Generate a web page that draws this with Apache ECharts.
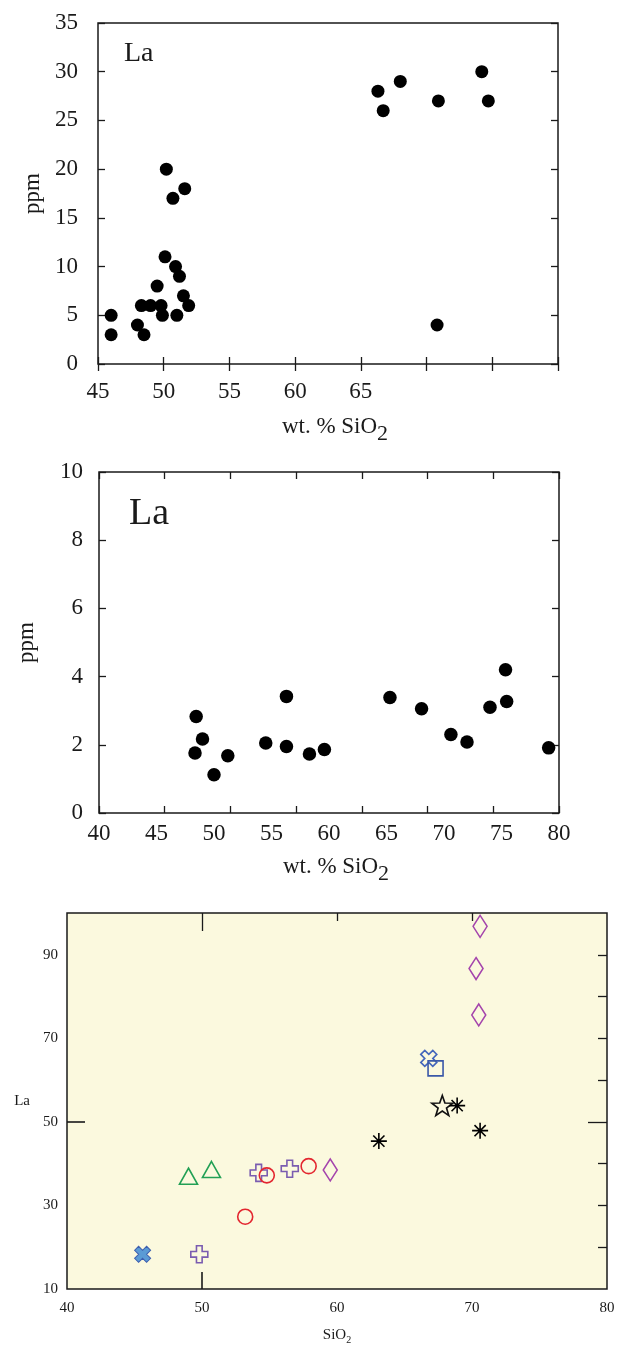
<!DOCTYPE html>
<html>
<head>
<meta charset="utf-8">
<title>La vs SiO2</title>
<script src="https://cdn.jsdelivr.net/npm/echarts@6/dist/echarts.min.js"></script>
<style>
  html, body { margin: 0; padding: 0; background: #fff; }
  #main { width: 621px; height: 1346px; }
</style>
</head>
<body>
<div id="main"></div>
<script>
// ---- panel 1 : La (ppm) vs wt. % SiO2
const p1Si = [46.0, 46.0, 48.0, 48.5, 48.3, 49.0, 49.5, 49.8, 49.9, 50.2, 50.1, 50.7, 51.6, 50.9, 51.2, 51.0, 51.5, 51.9, 66.3, 66.7, 68.0, 70.9, 70.8, 74.2, 74.7]
const p1La = [5, 3, 4, 3, 6, 6, 8, 6, 5, 20, 11, 17, 18, 10, 9, 5, 7, 6, 28, 26, 29, 27, 4, 30, 27]
const p1XLabels = [45, 50, 55, 60, 65]
const p1YLabels = [0, 5, 10, 15, 20, 25, 30, 35]

// ---- panel 2 : La (ppm) vs wt. % SiO2
const p2Si = [48.35, 48.45, 49.0, 50.0, 51.2, 54.5, 56.3, 56.3, 58.3, 59.6, 65.3, 68.05, 70.6, 72.0, 74.0, 75.35, 75.45, 79.1]
const p2La = [1.76, 2.83, 2.17, 1.12, 1.68, 2.05, 3.42, 1.95, 1.73, 1.86, 3.39, 3.06, 2.30, 2.08, 3.10, 4.20, 3.27, 1.91]
const p2XLabels = [40, 45, 50, 55, 60, 65, 70, 75, 80]
const p2YLabels = [0, 2, 4, 6, 8, 10]

// ---- panel 3 : La vs SiO2, grouped by symbol
const xFillSi = [45.6], xFillLa = [18.3]
const plusSi = [49.8, 54.2, 56.5], plusLa = [18.3, 37.8, 38.8]
const triSi = [49.0, 50.7], triLa = [37.0, 38.6]
const circSi = [53.2, 54.8, 57.9], circLa = [27.3, 37.2, 39.4]
const diaSi = [59.5, 70.5, 70.3, 70.6], diaLa = [38.5, 75.6, 86.7, 96.8]
const astSi = [63.1, 68.9, 70.6], astLa = [45.4, 53.9, 47.9]
const starSi = [67.8], starLa = [53.9]
const xOpenSi = [66.8], xOpenLa = [65.2]
const sqSi = [67.3], sqLa = [62.8]
const p3XLabels = [40, 50, 60, 70, 80]
const p3YLabels = [10, 30, 50, 70, 90]

const FONT = '"Liberation Serif", "Times New Roman", serif'
const INK = '#1a1a1a'

const plusPath = 'path://M-1,-3L1,-3L1,-1L3,-1L3,1L1,1L1,3L-1,3L-1,1L-3,1L-3,-1L-1,-1Z'
const starPath = 'path://M0,-1L0.235,-0.324L0.951,-0.309L0.38,0.124L0.588,0.809L0,0.4L-0.588,0.809L-0.38,0.124L-0.951,-0.309L-0.235,-0.324Z'
const astPath = 'path://M0,-1L0,1M-1,0L1,0M-0.7,-0.7L0.7,0.7M-0.7,0.7L0.7,-0.7'

function pairs(xs, ys) {
  return xs.map((x, i) => [x, ys[i]])
}

// axis that only draws inward ticks
function tickAxis(gridIndex, position, min, max, tick) {
  return {
    type: 'value', gridIndex, position, min, max,
    interval: tick.interval,
    axisLine: { show: false },
    splitLine: { show: false },
    axisLabel: { show: false },
    axisTick: {
      inside: true, length: tick.length,
      customValues: tick.values,
      lineStyle: { color: INK, width: 1.3 }
    }
  }
}

function dots(xAxisIndex, yAxisIndex, data, size) {
  return {
    type: 'scatter', xAxisIndex, yAxisIndex, data,
    symbol: 'circle', symbolSize: size,
    itemStyle: { color: '#000', opacity: 1 }
  }
}

function hollow(data, symbol, size, color, extra) {
  return Object.assign({
    type: 'scatter', xAxisIndex: 5, yAxisIndex: 4, data,
    symbol, symbolSize: size,
    itemStyle: { color: 'transparent', borderColor: color, borderWidth: 1.6, opacity: 1 }
  }, extra || {})
}

const labelStyle = (size, margin) => ({ fontFamily: FONT, fontSize: size, color: INK, margin })

// "wt. % SiO2" with a lowered 2
const siName = {
  padding: [0, 0, 0, 14],
  rich: {
    a: { fontFamily: FONT, fontSize: 23, color: INK },
    b: { fontFamily: FONT, fontSize: 22, color: INK, padding: [14, 0, 0, 0] }
  }
}

const option = {
  animation: false,
  backgroundColor: '#fff',
  grid: [
    { left: 98, top: 23, width: 460, height: 341, show: true, borderColor: INK, borderWidth: 1.5 },
    { left: 99, top: 472, width: 460, height: 341, show: true, borderColor: INK, borderWidth: 1.5 },
    { left: 67, top: 913, width: 540, height: 378, show: true, borderColor: INK, borderWidth: 1.5, backgroundColor: '#fbf9de' }
  ],
  graphic: [
    { type: 'text', left: 124, top: 40, style: { text: 'La', font: '28px ' + FONT, fill: INK } },
    { type: 'text', left: 129, top: 495, style: { text: 'La', font: '38px ' + FONT, fill: INK } }
  ],
  xAxis: [
    // 0: panel 1 labels + ticks
    {
      type: 'value', gridIndex: 0, position: 'bottom', min: 45, max: 80, interval: 5,
      axisLine: { show: false }, splitLine: { show: false },
      axisTick: { inside: true, length: 7, lineStyle: { color: INK, width: 1.3 } },
      axisLabel: Object.assign(labelStyle(23, 16), { customValues: p1XLabels }),
      name: '{a|wt. % SiO}{b|2}', nameLocation: 'middle', nameGap: 45,
      nameTextStyle: siName
    },
    tickAxis(0, 'top', 45, 80, { interval: 5, length: 7 }),
    // 2: panel 2 labels
    {
      type: 'value', gridIndex: 1, position: 'bottom', min: 40, max: 80,
      axisLine: { show: false }, splitLine: { show: false },
      axisTick: { show: false },
      axisLabel: Object.assign(labelStyle(23, 9), { customValues: p2XLabels }),
      name: '{a|wt. % SiO}{b|2}', nameLocation: 'middle', nameGap: 36,
      nameTextStyle: siName
    },
    // panel 2 frame ticks (same frame as panel 1)
    tickAxis(1, 'bottom', 45, 80, { interval: 5, length: 7 }),
    tickAxis(1, 'top', 45, 80, { interval: 5, length: 7 }),
    // 5: panel 3
    {
      type: 'value', gridIndex: 2, position: 'bottom', min: 40, max: 80,
      axisLine: { show: false }, splitLine: { show: false },
      axisTick: { inside: true, length: 17, customValues: [50], lineStyle: { color: INK, width: 1.6 } },
      axisLabel: Object.assign(labelStyle(15, 12), { customValues: p3XLabels }),
      name: '{a|SiO}{b|2}', nameLocation: 'middle', nameGap: 36,
      nameTextStyle: {
        rich: {
          a: { fontFamily: FONT, fontSize: 15, color: INK },
          b: { fontFamily: FONT, fontSize: 10, color: INK, padding: [10, 0, 0, 0] }
        }
      }
    },
    tickAxis(2, 'top', 40, 80, { values: [50], length: 18 }),
    tickAxis(2, 'top', 40, 80, { values: [60, 70], length: 8 })
  ],
  yAxis: [
    // 0: panel 1
    {
      type: 'value', gridIndex: 0, position: 'left', min: 0, max: 35, interval: 5,
      axisLine: { show: false }, splitLine: { show: false },
      axisTick: { inside: true, length: 7, lineStyle: { color: INK, width: 1.3 } },
      axisLabel: Object.assign(labelStyle(23, 20), { customValues: p1YLabels }),
      name: 'ppm', nameLocation: 'middle', nameGap: 52,
      nameTextStyle: { fontFamily: FONT, fontSize: 23, color: INK }
    },
    tickAxis(0, 'right', 0, 35, { interval: 5, length: 7 }),
    // 2: panel 2
    {
      type: 'value', gridIndex: 1, position: 'left', min: 0, max: 10, interval: 2,
      axisLine: { show: false }, splitLine: { show: false },
      axisTick: { inside: true, length: 7, lineStyle: { color: INK, width: 1.3 } },
      axisLabel: Object.assign(labelStyle(23, 16), { customValues: p2YLabels }),
      name: 'ppm', nameLocation: 'middle', nameGap: 61,
      nameTextStyle: { fontFamily: FONT, fontSize: 23, color: INK }
    },
    tickAxis(1, 'right', 0, 10, { interval: 2, length: 7 }),
    // 4: panel 3
    {
      type: 'value', gridIndex: 2, position: 'left', min: 10, max: 100,
      axisLine: { show: false }, splitLine: { show: false },
      axisTick: { inside: true, length: 18, customValues: [50], lineStyle: { color: INK, width: 1.6 } },
      axisLabel: Object.assign(labelStyle(15, 9), { customValues: p3YLabels }),
      name: 'La', nameLocation: 'middle', nameRotate: 0, nameGap: 37,
      nameTextStyle: { fontFamily: FONT, fontSize: 15, color: INK }
    },
    tickAxis(2, 'right', 10, 100, { values: [20, 30, 40, 60, 70, 80, 90], length: 9 }),
    tickAxis(2, 'right', 10, 100, { values: [50], length: 19 })
  ],
  series: [
    dots(0, 0, pairs(p1Si, p1La), 13),
    dots(2, 2, pairs(p2Si, p2La), 13.5),
    // panel 3
    {
      type: 'scatter', xAxisIndex: 5, yAxisIndex: 4, data: pairs(xFillSi, xFillLa),
      symbol: plusPath, symbolSize: 17, symbolRotate: 45,
      itemStyle: { color: '#5b9bd5', borderColor: '#3d5fb0', borderWidth: 1, opacity: 1 }
    },
    hollow(pairs(plusSi, plusLa), plusPath, 17, '#7a5cb0'),
    hollow(pairs(triSi, triLa), 'triangle', [18, 16], '#22a055'),
    hollow(pairs(circSi, circLa), 'circle', 15, '#e3262f'),
    hollow(pairs(diaSi, diaLa), 'diamond', [14, 22], '#a444ac'),
    hollow(pairs(xOpenSi, xOpenLa), plusPath, 17, '#4466bb', { symbolRotate: 45 }),
    hollow(pairs(sqSi, sqLa), 'rect', 15, '#3a58a8'),
    hollow(pairs(starSi, starLa), starPath, [21, 20], '#111'),
    {
      type: 'scatter', xAxisIndex: 5, yAxisIndex: 4, data: pairs(astSi, astLa),
      symbol: astPath, symbolSize: 16,
      itemStyle: { color: '#000', borderColor: '#000', borderWidth: 1.6, opacity: 1 }
    }
  ]
}

const chart = echarts.init(document.getElementById('main'))
chart.setOption(option)
</script>
</body>
</html>
